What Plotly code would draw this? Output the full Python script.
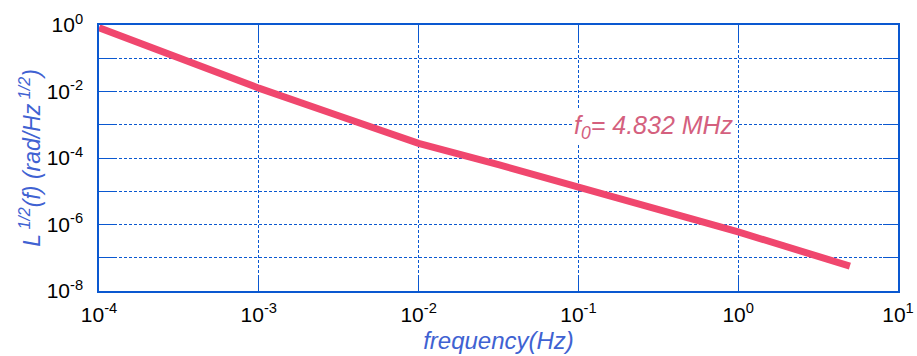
import numpy as np
import plotly.graph_objects as go

# Phase-noise amplitude spectral density L^(1/2)(f)
freq = [1e-4, 3.16e-4, 1e-3, 3.16e-3, 1e-2, 3.16e-2, 1e-1, 3.16e-1, 1.0, 5.0]
l_half = [0.83, 0.105, 0.0126, 1.86e-3, 2.75e-4, 6.3e-5, 1.38e-5, 2.95e-6, 6.0e-7, 5.6e-8]

x_tick_vals = [1e-4, 1e-3, 1e-2, 1e-1, 1e0, 1e1]
x_tick_text = ["10<sup>-4</sup>", "10<sup>-3</sup>", "10<sup>-2</sup>",
               "10<sup>-1</sup>", "10<sup>0</sup>", "10<sup>1</sup>"]
y_tick_vals = [1e0, 1e-1, 1e-2, 1e-3, 1e-4, 1e-5, 1e-6, 1e-7, 1e-8]
y_tick_text = ["10<sup>0</sup>", "", "10<sup>-2</sup>", "", "10<sup>-4</sup>", "",
               "10<sup>-6</sup>", "", "10<sup>-8</sup>"]

carrier_label = "<i>f<sub>0</sub>= 4.832 MHz</i>"

grid_blue = "#0a58d0"
title_blue = "#3f62d2"
font_family = "Liberation Sans, Arial, sans-serif"

fig = go.Figure()
fig.add_trace(go.Scatter(
    x=freq, y=l_half, mode="lines",
    line=dict(color="#f0476e", width=7),
    showlegend=False,
))

axis_common = dict(
    type="log",
    automargin=False,
    showline=True, linecolor=grid_blue, linewidth=1.5, mirror="ticks",
    ticks="inside", ticklen=15, tickcolor=grid_blue, tickwidth=1,
    showgrid=True, gridcolor=grid_blue, gridwidth=1, griddash="3px,2px",
    zeroline=False,
    tickfont=dict(family=font_family, size=21, color="black"),
)

fig.update_xaxes(
    **axis_common,
    range=[-4, 1],
    tickmode="array", tickvals=x_tick_vals, ticktext=x_tick_text,
    ticklabelstandoff=4,
    title=dict(text="<i>frequency(Hz)</i>", standoff=7,
               font=dict(family=font_family, size=24, color=title_blue)),
)
fig.update_yaxes(
    **axis_common,
    range=[-8, 0],
    tickmode="array", tickvals=y_tick_vals, ticktext=y_tick_text,
    ticklabelstandoff=10,
    title=dict(text="<i>L<sup> 1/2</sup>(f) (rad/Hz<sup> 1/2</sup>)</i>", standoff=0,
               font=dict(family=font_family, size=23, color=title_blue)),
)

fig.add_annotation(
    x=np.log10(0.29) + 0.01, y=-3.07, xref="x", yref="y",
    text=carrier_label, showarrow=False,
    bgcolor="white",
    font=dict(family=font_family, size=25, color="#d4607e"),
)

fig.update_layout(
    width=917, height=356,
    margin=dict(l=99, r=19, t=25, b=65),
    paper_bgcolor="white", plot_bgcolor="white",
)

fig.write_html("out.html")
